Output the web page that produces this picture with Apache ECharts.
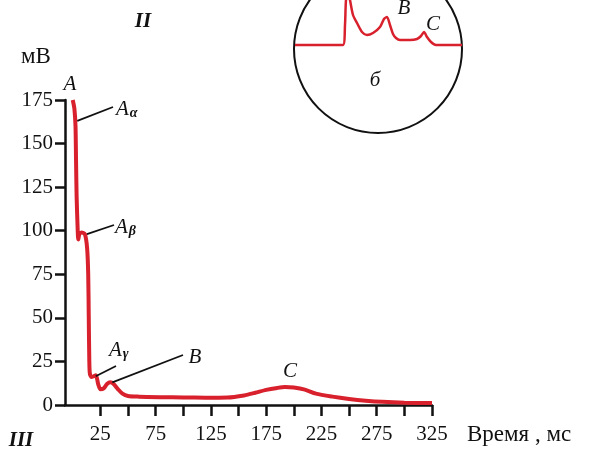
<!DOCTYPE html>
<html>
<head>
<meta charset="utf-8">
<script src="https://cdn.jsdelivr.net/npm/echarts@6/dist/echarts.min.js"></script>
<style>
  html, body { margin: 0; padding: 0; background: #fff; }
  #main { width: 589px; height: 462px; }
</style>
</head>
<body>
<div id="main"></div>
<script>
// основная кривая: время (мс) и потенциал (мВ)
var timeMs = [0, 1.5, 2.5, 3, 3.5, 4.5, 5, 6, 8, 11, 13, 14, 14.5, 15, 15.5, 17, 19, 21, 23, 25, 28, 31, 34, 37, 41, 45, 50, 60, 80, 100, 120, 140, 155, 165, 175, 185, 192, 200, 210, 220, 235, 250, 265, 280, 300, 325];
var voltage = [175, 170, 160, 140, 120, 100, 95, 98, 99, 98, 90, 75, 50, 25, 18, 16, 16.5, 17, 12, 9, 9.5, 12, 13, 12, 9, 6.5, 5.2, 4.8, 4.5, 4.3, 4.2, 4.3, 5.5, 7, 8.7, 9.8, 10.3, 10, 8.8, 6.5, 4.8, 3.5, 2.5, 1.8, 1.3, 1.1];

// вставка "б" (условные единицы)
var insetX = [0, 48, 50, 51, 53, 55, 58, 62, 67, 72, 78, 85, 89, 92, 95, 98, 101, 105, 115, 122, 126, 129, 132, 136, 141, 167];
var insetY = [0, 0, 20, 45, 55, 45, 30, 22, 13, 10, 12, 18, 26, 28, 20, 11, 7, 5, 5, 6, 9, 13, 8, 3, 0, 0];

// деления осей
var yTicks = [0, 25, 50, 75, 100, 125, 150, 175];
var xTicks = [25, 50, 75, 100, 125, 150, 175, 200, 225, 250, 275, 300, 325];
var xLabels = [25, 75, 125, 175, 225, 275, 325];

var serif = 'Liberation Serif';
var ink = '#111';
var red = '#d8212d';

function pairs(a, b) {
	var out = [];
	for (var i = 0; i < a.length; i++) {
		out.push([a[i], b[i]]);
	}
	return out;
}

var chart = echarts.init(document.getElementById('main'));

var option = {
	animation : false,
	backgroundColor : '#fff',
	grid : [ {
		left : 65,
		right : 157,
		top : 100,
		bottom : 57
	}, {
		left : 295,
		top : 0,
		width : 167,
		height : 45
	} ],
	xAxis : [ {
		type : 'value',
		min : -7,
		max : 325,
		axisLine : {
			onZero : false,
			lineStyle : { color : ink, width : 2.5 }
		},
		axisTick : {
			customValues : xTicks,
			length : 11,
			lineStyle : { color : ink, width : 2.5 }
		},
		axisLabel : {
			customValues : xLabels,
			margin : 19,
			color : ink,
			fontFamily : serif,
			fontSize : 21
		},
		splitLine : { show : false }
	}, {
		gridIndex : 1,
		type : 'value',
		min : 0,
		max : 167,
		show : false
	} ],
	yAxis : [ {
		type : 'value',
		min : 0,
		max : 175,
		axisLine : {
			show : true,
			onZero : false,
			lineStyle : { color : ink, width : 2.5 }
		},
		axisTick : {
			show : true,
			customValues : yTicks,
			length : 10,
			lineStyle : { color : ink, width : 2.5 }
		},
		axisLabel : {
			customValues : yTicks,
			margin : 12,
			color : ink,
			fontFamily : serif,
			fontSize : 21
		},
		splitLine : { show : false }
	}, {
		gridIndex : 1,
		type : 'value',
		min : 0,
		max : 45,
		show : false
	} ],
	series : [ {
		type : 'line',
		data : pairs(timeMs, voltage),
		symbol : 'none',
		smooth : 0.25,
		lineStyle : { color : red, width : 4 }
	}, {
		type : 'line',
		xAxisIndex : 1,
		yAxisIndex : 1,
		data : pairs(insetX, insetY),
		symbol : 'none',
		smooth : 0.25,
		clip : false,
		lineStyle : { color : red, width : 2.5 }
	} ]
};
chart.setOption(option);

// подписи и выноски
function txt(x, y, s, font) {
	return {
		type : 'text',
		x : x,
		y : y,
		z : 10,
		style : {
			text : s,
			font : font,
			fill : ink,
			align : 'center',
			verticalAlign : 'middle'
		}
	};
}
function sub(x, y, letter) {
	return {
		type : 'text',
		x : x,
		y : y,
		z : 10,
		style : {
			text : '{a|A}{s|' + letter + '}',
			fill : ink,
			align : 'left',
			verticalAlign : 'middle',
			rich : {
				a : { font : 'italic 21px ' + serif, fill : ink },
				s : { font : 'italic bold 14px ' + serif, fill : ink, padding : [ 8, 0, 0, 1 ] }
			}
		}
	};
}
function leader(pt, x2, y2) {
	var p = chart.convertToPixel({ gridIndex : 0 }, pt);
	return {
		type : 'line',
		z : 9,
		shape : { x1 : p[0] + 2, y1 : p[1], x2 : x2, y2 : y2 },
		style : { stroke : ink, lineWidth : 1.8 }
	};
}

var it = 'italic 21px ' + serif;
chart.setOption({
	graphic : [
		txt(36, 57, 'мВ', '23px ' + serif),
		txt(70, 84, 'A', it),
		sub(116, 109, 'α'),
		leader([2.3, 163], 113, 107),
		sub(115, 227, 'β'),
		leader([11, 98], 114, 225),
		sub(109, 350, 'γ'),
		leader([19, 16.5], 116, 366),
		txt(195, 357, 'B', it),
		leader([34, 13], 183, 355),
		txt(290, 371, 'C', it),
		txt(143, 22, 'II', 'italic bold 21px ' + serif),
		txt(21, 441, 'III', 'italic bold 21px ' + serif),
		{
			type : 'text',
			x : 467,
			y : 435,
			style : {
				text : 'Время , мс',
				font : '23px ' + serif,
				fill : ink,
				align : 'left',
				verticalAlign : 'middle'
			}
		},
		{
			type : 'circle',
			shape : { cx : 378, cy : 49, r : 84 },
			style : { fill : 'none', stroke : ink, lineWidth : 2 }
		},
		txt(404, 8, 'B', it),
		txt(433, 24, 'C', it),
		txt(375, 80, 'б', it)
	]
});
</script>
</body>
</html>
